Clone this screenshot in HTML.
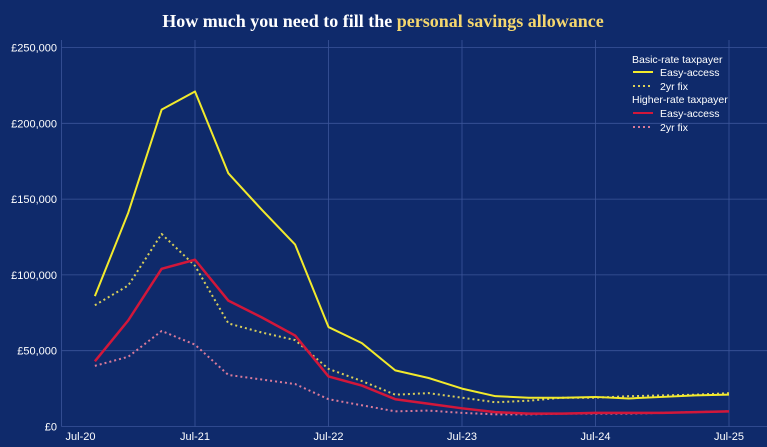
<!DOCTYPE html>
<html><head><meta charset="utf-8"><style>
html,body{margin:0;padding:0;background:#0f2a6b;}
svg{display:block;font-family:"Liberation Sans",sans-serif;}
</style></head><body>
<svg id="c" width="767" height="447" viewBox="0 0 767 447">
<rect width="767" height="447" fill="#0f2a6b"/>
<text x="383" y="27" text-anchor="middle" font-family="Liberation Serif, serif" font-weight="bold" font-size="18" fill="#ffffff">How much you need to fill the <tspan fill="#f5d76e">personal savings allowance</tspan></text>
<g id="grid"></g><g id="series"></g>
<g font-size="10.5" fill="#fff">
<text x="632" y="63">Basic-rate taxpayer</text>
<line x1="633" y1="72" x2="653" y2="72" stroke="#f2ea2c" stroke-width="2"/>
<text x="660" y="76">Easy-access</text>
<line x1="633" y1="86" x2="653" y2="86" stroke="#d8cf5a" stroke-width="2" stroke-dasharray="2,3"/>
<text x="660" y="90">2yr fix</text>
<text x="632" y="103">Higher-rate taxpayer</text>
<line x1="633" y1="113" x2="653" y2="113" stroke="#d2173a" stroke-width="2"/>
<text x="660" y="117">Easy-access</text>
<line x1="633" y1="127" x2="653" y2="127" stroke="#d97a9a" stroke-width="2" stroke-dasharray="2,3"/>
<text x="660" y="131">2yr fix</text>
</g>
</svg>
<script>
const months = [3,6,9,12,15,18,21,24,27,30,33,36,39,42,45,48,51,54,57,60]; // months after Jul-20
const basicEasy = [86,141,209,221,167,143,120,65.6,55,37,32,25,20,19,19,19.5,18.5,19.5,20.5,21];
const basicFix = [80,93,127,106,68,62,57,38,30,21,22,19,16,17,19,19,20,20.5,21,22];
const higherEasy = [43,70,104,110,83,72,60,33,27,18,15,12,9.5,8.5,8.5,9,9,9,9.5,10];
const higherFix = [40,46,63,54,34,31,28,18,14,10,10.5,9,8,8,8.5,8.5,8.5,9,9.5,10];
const yTicks = [0,50,100,150,200,250];
const yTickLabels = ["£0","£50,000","£100,000","£150,000","£200,000","£250,000"];
const xTicks = [0,12,24,36,48,60];
const xTickLabels = ["Jul-20","Jul-21","Jul-22","Jul-23","Jul-24","Jul-25"];
const NS="http://www.w3.org/2000/svg";
function x(m){return 61.5+m*(667.5/60);}
function y(v){return 426.5-v*1.516;}
const grid=document.getElementById('grid'), ser=document.getElementById('series');
function mk(tag,attrs,parent){const e=document.createElementNS(NS,tag);for(const k in attrs)e.setAttribute(k,attrs[k]);parent.appendChild(e);return e;}
yTicks.forEach((t,i)=>{
  const l=mk('line',{x1:61.5,x2:767,y1:y(t),y2:y(t),stroke:'#3b559a','stroke-width':0.8},grid);
  
  
  const tx=mk('text',{x:57,y:y(t)+4,'text-anchor':'end','font-size':11,fill:'#fff'},grid);
  tx.textContent=yTickLabels[i];
  
  
});
xTicks.forEach((t,i)=>{
  const l=mk('line',{x1:x(t),x2:x(t),y1:40,y2:426.5,stroke:'#3b559a','stroke-width':0.8},grid);
  
  
  const tx=mk('text',{x:i==0?x(t)+19:x(t),y:440,'text-anchor':'middle','font-size':11,fill:'#fff'},grid);
  tx.textContent=xTickLabels[i];
  
  
});
function line(vals,color,w,dash,name){
  const p=mk('polyline',{points:vals.map((v,i)=>x(months[i])+','+y(v)).join(' '),fill:'none',stroke:color,'stroke-width':w,'stroke-linejoin':'round'},ser);
  if(dash)p.setAttribute('stroke-dasharray',dash);
  
  
}
line(higherFix,'#d97a9a',2,'2,3','line-higher-2yr-fix');
line(basicFix,'#d8cf5a',2,'2,3','line-basic-2yr-fix');
line(higherEasy,'#d2173a',2.5,null,'line-higher-easy-access');
line(basicEasy,'#f2ea2c',2,null,'line-basic-easy-access');
</script>
</body></html>
